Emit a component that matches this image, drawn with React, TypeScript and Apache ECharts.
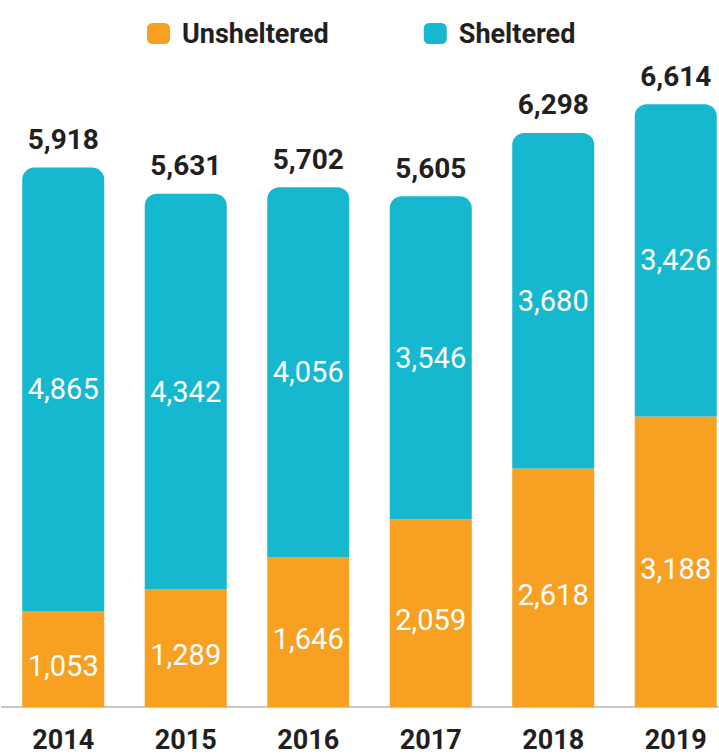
import React, { useEffect, useRef } from "react";
import * as echarts from "echarts";

const years = ["2014", "2015", "2016", "2017", "2018", "2019"];
const unsheltered = [1053, 1289, 1646, 2059, 2618, 3188];
const sheltered = [4865, 4342, 4056, 3546, 3680, 3426];
const totals = unsheltered.map((u, i) => u + sheltered[i]);

const ORANGE = "#F7A021";
const TEAL = "#16B8CF";
const DARK = "#231F20";
const FONT = "Roboto, 'Liberation Sans', sans-serif";

const fmt = (v: number) => v.toLocaleString("en-US");

export default function App() {
  const ref = useRef<HTMLDivElement>(null);
  useEffect(() => {
    if (!ref.current) return;
    const chart = echarts.init(ref.current, undefined, { renderer: "svg" });
    chart.setOption({
      animation: false,
      backgroundColor: "#ffffff",
      textStyle: { fontFamily: FONT },
      legend: {
        left: 142,
        top: 15,
        itemWidth: 23,
        itemHeight: 21,
        itemGap: 95,
        icon: "roundRect",
        data: ["Unsheltered", "Sheltered"],
        textStyle: {
          fontFamily: FONT,
          fontSize: 27,
          fontWeight: "bold",
          color: DARK,
          padding: [0, 0, 0, 7],
        },
      },
      grid: { left: 2, right: -18, top: 69, bottom: 48, outerBoundsMode: "none", containLabel: false },
      xAxis: {
        type: "category",
        data: years,
        axisLine: { show: true, lineStyle: { color: "#C8C8C8", width: 2 } },
        axisTick: { show: false },
        axisLabel: {
          margin: 19,
          fontFamily: FONT,
          fontSize: 27,
          fontWeight: "bold",
          color: DARK,
        },
      },
      yAxis: { type: "value", min: 0, max: 7000, show: false, splitLine: { show: false } },
      series: [
        {
          name: "Unsheltered",
          type: "bar",
          stack: "total",
          barWidth: 82,
          data: unsheltered,
          itemStyle: { color: ORANGE },
          label: {
            show: true,
            position: "inside",
            offset: [0, 7],
            formatter: (p: any) => fmt(p.value),
            color: "#ffffff",
            fontFamily: FONT,
            fontSize: 29,
          },
          z: 2,
        },
        {
          name: "Sheltered",
          type: "bar",
          stack: "total",
          barWidth: 82,
          data: sheltered,
          itemStyle: { color: TEAL, borderRadius: [12, 12, 0, 0] },
          label: {
            show: true,
            position: "inside",
            formatter: (p: any) => fmt(p.value),
            color: "#ffffff",
            fontFamily: FONT,
            fontSize: 29,
          },
          z: 2,
        },
        {
          name: "Total",
          type: "bar",
          barWidth: 82,
          barGap: "-100%",
          data: totals,
          silent: true,
          itemStyle: { color: "rgba(0,0,0,0)" },
          label: {
            show: true,
            position: "top",
            distance: 14,
            formatter: (p: any) => fmt(p.value),
            color: DARK,
            fontFamily: FONT,
            fontSize: 28,
            fontWeight: "bold",
          },
          z: 1,
        },
      ],
    });
    return () => chart.dispose();
  }, []);
  return (
    <div
      ref={ref}
      style={{ position: "absolute", left: 0, top: 0, width: 719, height: 755 }}
    />
  );
}
